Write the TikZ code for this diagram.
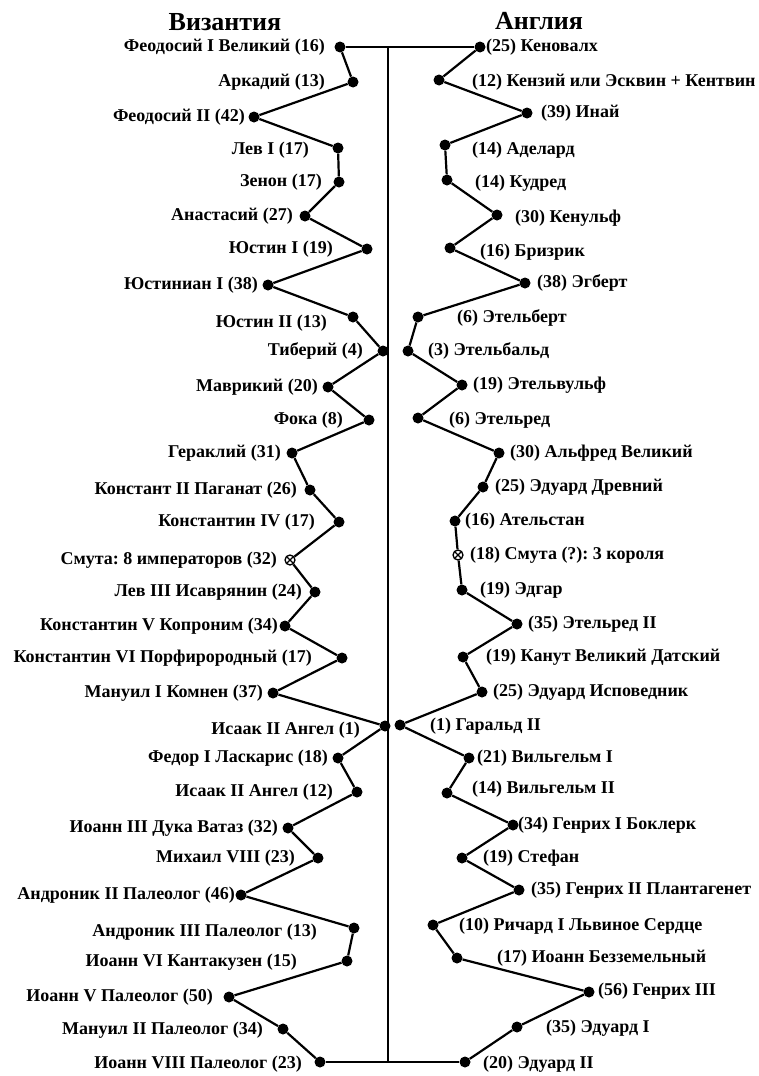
\documentclass[tikz,border=0pt]{standalone}
\usepackage{fontspec}
\setmainfont{Liberation Serif}
\frenchspacing

\begin{document}
\begin{tikzpicture}[x=1pt,y=-1pt,
  reign/.style={circle,fill,inner sep=0pt,minimum size=11pt},
  smuta/.style={circle,draw,line width=1.3pt,fill=white,inner sep=0pt,minimum size=10pt,
    path picture={\draw[line width=1.2pt] (path picture bounding box.south west) -- (path picture bounding box.north east)
      (path picture bounding box.north west) -- (path picture bounding box.south east);}},
  monarch/.style={font=\fontsize{18}{20}\selectfont\bfseries,inner sep=0pt},
  title/.style={font=\fontsize{26}{28}\selectfont\bfseries},
  zigzag/.style={line width=2.2pt},
  axis/.style={line width=1.8pt}]
\useasboundingbox (0,0) rectangle (759,1076);

\node[title] (byz) at (225,22) {Византия};
\node[title] (eng) at (539,21) {Англия};

% Byzantium
\foreach \n/\s/\x/\y/\lx/\ly/\t in {
  1/reign/340/47/325/47/Феодосий I Великий (16),
  2/reign/353/82/325/82/Аркадий (13),
  3/reign/254/117/245/117/Феодосий II (42),
  4/reign/338/148/309/150/Лев I (17),
  5/reign/339/182/322/182/Зенон (17),
  6/reign/305/216/293/216/Анастасий (27),
  7/reign/367/249/333/249/Юстин I (19),
  8/reign/268/285/258/285/Юстиниан I (38),
  9/reign/353/317/327/323/Юстин II (13),
  10/reign/383/351/363/351/Тиберий (4),
  11/reign/328/387/318/387/Маврикий (20),
  12/reign/369/420/343/420/Фока (8),
  13/reign/292/453/281/453/Гераклий (31),
  14/reign/310/490/297/490/Констант II Паганат (26),
  15/reign/339/522/315/522/Константин IV (17),
  16/smuta/290/560/277/560/Смута: 8 императоров (32),
  17/reign/315/592/302/592/Лев III Исаврянин (24),
  18/reign/285/626/278/626/Константин V Копроним (34),
  19/reign/342/658/312/658/Константин VI Порфирородный (17),
  20/reign/273/693/263/693/Мануил I Комнен (37),
  21/reign/385/726/360/730/Исаак II Ангел (1),
  22/reign/338/758/328/758/Федор I Ласкарис (18),
  23/reign/357/792/333/792/Исаак II Ангел (12),
  24/reign/288/828/278/828/Иоанн III Дука Ватаз (32),
  25/reign/318/858/295/858/Михаил VIII (23),
  26/reign/241/895/235/895/Андроник II Палеолог (46),
  27/reign/354/928/317/932/Андроник III Палеолог (13),
  28/reign/347/961/297/962/Иоанн VI Кантакузен (15),
  29/reign/229/997/213/997/Иоанн V Палеолог (50),
  30/reign/283/1029/263/1030/Мануил II Палеолог (34),
  31/reign/320/1062/302/1064/Иоанн VIII Палеолог (23)}
{
  \node[\s] (B\n) at (\x,\y) {};
  \node[monarch,anchor=east] (BL\n) at (\lx,\ly) {\t};
}

% England
\foreach \n/\s/\x/\y/\lx/\ly/\t in {
  1/reign/480/47/486/47/(25) Кеновалх,
  2/reign/439/80/472/82/(12) Кензий или Эсквин + Кентвин,
  3/reign/527/113/541/113/(39) Инай,
  4/reign/445/145/472/150/(14) Аделард,
  5/reign/447/180/475/183/(14) Кудред,
  6/reign/497/215/515/218/(30) Кенульф,
  7/reign/450/248/480/252/(16) Бризрик,
  8/reign/525/283/537/283/(38) Эгберт,
  9/reign/418/317/457/318/(6) Этельберт,
  10/reign/408/351/428/351/(3) Этельбальд,
  11/reign/462/385/473/385/(19) Этельвульф,
  12/reign/418/418/449/420/(6) Этельред,
  13/reign/499/453/510/453/(30) Альфред Великий,
  14/reign/483/487/495/487/(25) Эдуард Древний,
  15/reign/455/521/465/521/(16) Ательстан,
  16/smuta/458/555/470/555/(18) Смута (?): 3 короля,
  17/reign/462/590/480/590/(19) Эдгар,
  18/reign/517/624/528/624/(35) Этельред II,
  19/reign/463/657/486/657/(19) Канут Великий Датский,
  20/reign/482/692/493/692/(25) Эдуард Исповедник,
  21/reign/400/725/430/726/(1) Гаральд II,
  22/reign/469/758/477/758/(21) Вильгельм I,
  23/reign/447/793/472/789/(14) Вильгельм II,
  24/reign/513/825/518/825/(34) Генрих I Боклерк,
  25/reign/462/858/483/858/(19) Стефан,
  26/reign/519/890/531/890/(35) Генрих II Плантагенет,
  27/reign/433/925/459/926/(10) Ричард I Львиное Сердце,
  28/reign/457/958/497/958/(17) Иоанн Безземельный,
  29/reign/589/992/598/991/(56) Генрих III,
  30/reign/517/1027/546/1028/(35) Эдуард I,
  31/reign/465/1062/483/1064/(20) Эдуард II}
{
  \node[\s] (E\n) at (\x,\y) {};
  \node[monarch,anchor=west] (EL\n) at (\lx,\ly) {\t};
}

% frame and the two chains
\coordinate (top) at (388,47);
\coordinate (bottom) at (388,1062);
\draw[axis] (B1) -- (E1);
\draw[axis] (B31) -- (E31);
\draw[axis] (top) -- (bottom);
\foreach \i [count=\j from 2] in {1,...,30}
  \draw[zigzag] (B\i) -- (B\j) (E\i) -- (E\j);
\end{tikzpicture}
\end{document}
